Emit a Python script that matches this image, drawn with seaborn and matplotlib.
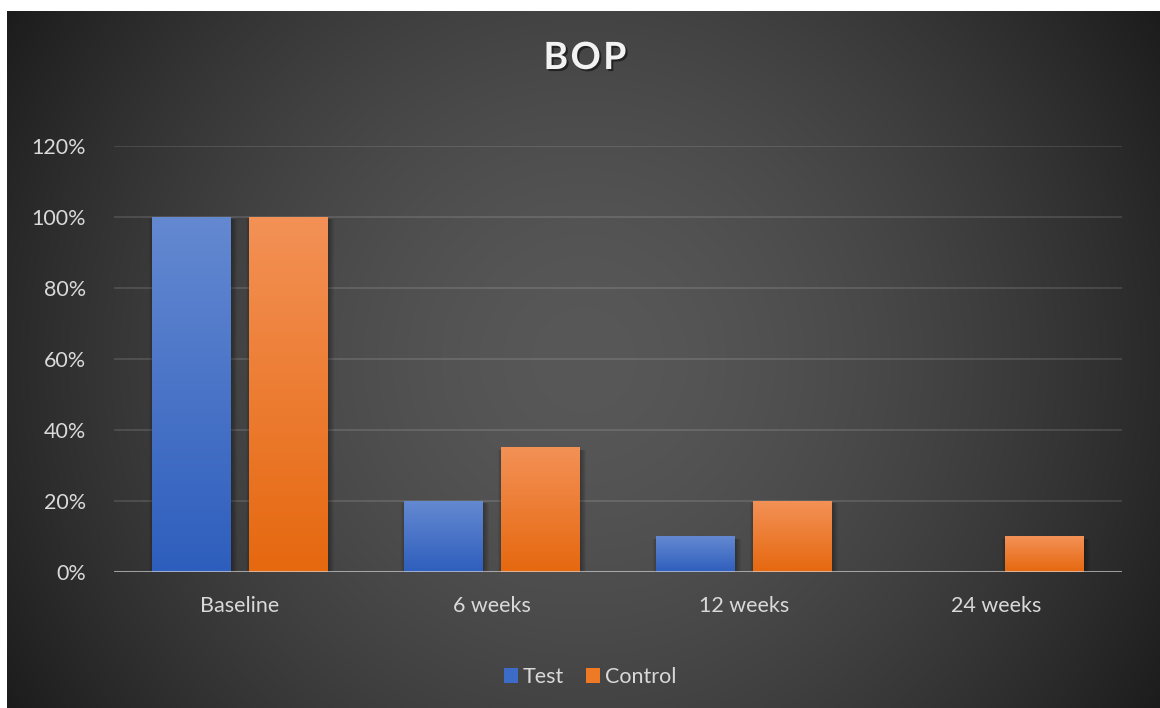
import numpy as np
import pandas as pd
import matplotlib
matplotlib.use("Agg")
import matplotlib.pyplot as plt
import matplotlib.patheffects as pe
from matplotlib.patches import Rectangle, Patch
from matplotlib.colors import to_rgb
from matplotlib.ticker import FuncFormatter
import seaborn as sns

# Data
periods = ["Baseline", "6 weeks", "12 weeks", "24 weeks"]
groups = ["Test", "Control"]
test_values = [1.00, 0.20, 0.10, 0.00]
control_values = [1.00, 0.35, 0.20, 0.10]
y_ticks = [0.0, 0.2, 0.4, 0.6, 0.8, 1.0, 1.2]
title = "BOP"

df = pd.DataFrame({
    "period": periods * 2,
    "group": ["Test"] * len(periods) + ["Control"] * len(periods),
    "value": test_values + control_values,
})

sns.set_theme(style="dark")
plt.rcParams["font.family"] = ["Lato", "DejaVu Sans"]

W, H = 1160, 708
fig = plt.figure(figsize=(W / 100, H / 100), dpi=100, facecolor="white")

# Radial gradient background panel
bg = fig.add_axes([7 / W, 0, 1 - 7 / W, 1 - 11 / H])
bw, bh = W - 7, H - 11
yy, xx = np.mgrid[0:bh, 0:bw]
cx, cy = bw / 2, bh / 2
r = np.sqrt((xx - cx) ** 2 + (yy - cy) ** 2) / np.sqrt(cx ** 2 + cy ** 2)
c_in, c_out = 0x58 / 255, 0x1c / 255
shade = c_in + (c_out - c_in) * np.clip(r, 0, 1) ** 1.6
bg.imshow(np.dstack([shade] * 3), aspect="auto", interpolation="bilinear")
bg.set_axis_off()

# Main chart axes
ax = fig.add_axes([114 / W, 136 / H, 1008 / W, 426 / H])
ax.set_facecolor("none")

blue_top, blue_bot = "#6489d1", "#2e5ebd"
orange_top, orange_bot = "#f39156", "#e6680f"
palette = {"Test": "#4472c4", "Control": "#ed7d31"}

sns.barplot(data=df, x="period", y="value", hue="group", order=periods,
            hue_order=groups, palette=palette, width=0.77, gap=0.19,
            legend=False, ax=ax, zorder=3, linewidth=0)

px_x = 4.0 / 1008
px_y = 1.2 / 426
grads = [(blue_top, blue_bot), (orange_top, orange_bot)]
for container, (ctop, cbot) in zip(ax.containers, grads):
    for bar in container:
        x0, w, h = bar.get_x(), bar.get_width(), bar.get_height()
        if h <= 0:
            continue
        # soft drop shadow
        for k in range(6):
            ax.add_patch(Rectangle((x0 + 1.5 * px_x - k * px_x, -k * px_y),
                                   w + 2 * k * px_x, h + k * px_y - 2 * px_y,
                                   facecolor="black", alpha=0.055,
                                   linewidth=0, zorder=2))
        # vertical gradient fill
        t = np.linspace(0, 1, 256)[:, None]
        top, bot = np.array(to_rgb(ctop)), np.array(to_rgb(cbot))
        img = top[None, None, :] * (1 - t[..., None]) + bot[None, None, :] * t[..., None]
        img = np.repeat(img, 2, axis=1)
        ax.imshow(img, extent=(x0, x0 + w, 0, h), aspect="auto",
                  interpolation="bilinear", zorder=3.5)

ax.set_aspect("auto")
ax.set_xlim(-0.5, 3.5)
ax.set_ylim(0, 1.2)

# Grid and axis line
for yv in y_ticks[1:]:
    ax.axhline(yv, color="white", alpha=0.12, lw=1.4, zorder=1)
ax.axhline(0, color="#d9d9d9", alpha=0.65, lw=2.2, zorder=5)

for s in ax.spines.values():
    s.set_visible(False)

ax.set_yticks(y_ticks)
ax.yaxis.set_major_formatter(FuncFormatter(lambda v, _: f"{v * 100:.0f}%"))
ax.tick_params(axis="both", length=0, colors="#d9d9d9", labelsize=15.5)
ax.tick_params(axis="y", pad=20)
ax.tick_params(axis="x", pad=17)
ax.set_xlabel("")
ax.set_ylabel("")
ax.grid(False)

# Title
fig.text(585 / W, 1 - 58 / H, "\u200a".join(title), ha="center", va="center",
         fontsize=27, fontweight="bold", color="#f2f2f2",
         path_effects=[pe.withSimplePatchShadow(offset=(1.5, -1.5),
                                                shadow_rgbFace="black", alpha=0.5)])

# Legend
handles = [Patch(facecolor="#3d6bc8", edgecolor="none", label="Test"),
           Patch(facecolor="#ef7a26", edgecolor="none", label="Control")]
leg = fig.legend(handles=handles, loc="center", ncol=2,
                 bbox_to_anchor=(590 / W, 31 / H), frameon=False,
                 fontsize=15.5, handlelength=0.65, handleheight=0.65,
                 handletextpad=0.25, columnspacing=1.0, labelcolor="#d9d9d9")

fig.savefig("out.png", dpi=100, facecolor=fig.get_facecolor())
